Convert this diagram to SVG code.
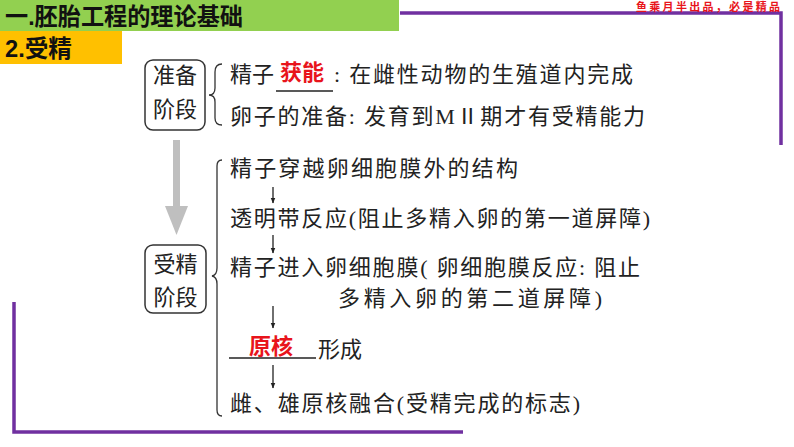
<svg xmlns="http://www.w3.org/2000/svg" width="794" height="447" viewBox="0 0 794 447">
<defs>
<style>
.t{font-family:"Liberation Serif","Noto Sans CJK SC",serif;font-size:22px;fill:#222}
.h{font-family:"Liberation Sans","Noto Sans CJK SC",sans-serif;font-size:24px;font-weight:bold;fill:#111}
.r{font-family:"Liberation Sans","Noto Sans CJK SC",sans-serif;font-size:22px;font-weight:bold;fill:#e8141b}
.box{fill:#fff;stroke:#333;stroke-width:1.5}
.br{fill:none;stroke:#333;stroke-width:1.3}
.ln{stroke:#222;stroke-width:1.3}
.pu{fill:none;stroke:#7030a0;stroke-width:3.5}
</style>
<marker id="ah" viewBox="0 0 10 10" refX="9" refY="5" markerWidth="6" markerHeight="8" orient="auto" markerUnits="userSpaceOnUse">
<path d="M0,1 L10,5 L0,9 Z" fill="#222"/>
</marker>
</defs>
<rect width="794" height="447" fill="#fff"/>
<g id="frame">
<polyline class="pu" points="400,13 781,13 781,145"/>
<polyline class="pu" points="14,302 14,432 463,432"/>
</g>
<g id="header">
<rect x="0" y="0" width="399" height="31" fill="#92d050"/>
<text class="h" x="5" y="25" textLength="238" lengthAdjust="spacingAndGlyphs">一.胚胎工程的理论基础</text>
<rect x="0" y="31" width="122" height="33" fill="#ffc000"/>
<text class="h" x="5" y="57" textLength="67" lengthAdjust="spacingAndGlyphs">2.受精</text>
<text x="780" y="11" text-anchor="end" font-family="Liberation Serif,Noto Sans CJK SC,serif" font-size="11" font-weight="bold" fill="#e8141b" textLength="144" lengthAdjust="spacing">鱼乘月半出品，必是精品</text>
</g>
<g id="prep">
<rect class="box" x="145" y="60" width="60" height="70" rx="8"/>
<text class="t" x="175" y="83" text-anchor="middle">准备</text>
<text class="t" x="175" y="117" text-anchor="middle">阶段</text>
<path class="br" d="M222,64 Q215,64 215,72 L215,88 Q215,95 209,95 Q215,95 215,102 L215,118 Q215,125 222,125"/>
<text class="t" x="230" y="82">精子</text>
<text class="r" x="280" y="80">获能</text>
<line class="ln" x1="276" y1="91" x2="333" y2="91"/>
<text class="t" x="334" y="82" textLength="299" lengthAdjust="spacing">: 在雌性动物的生殖道内完成</text>
<text class="t" x="230" y="124" textLength="415" lengthAdjust="spacing">卵子的准备: 发育到MⅡ期才有受精能力</text>
</g>
<g id="bigarrow">
<rect x="173" y="140" width="7" height="68" fill="#bfbfbf"/>
<polygon points="165,206 188,206 176.5,235" fill="#bfbfbf"/>
</g>
<g id="fert">
<rect class="box" x="145" y="245" width="61" height="68" rx="8"/>
<text class="t" x="175.5" y="272" text-anchor="middle">受精</text>
<text class="t" x="175.5" y="305" text-anchor="middle">阶段</text>
<path class="br" d="M222,160 Q217,160 217,166 L217,268 Q217,275 212,276 Q217,277 217,284 L217,410 Q217,416 222,416"/>
<text class="t" x="230" y="176" textLength="288" lengthAdjust="spacing">精子穿越卵细胞膜外的结构</text>
<text class="t" x="230" y="226" textLength="420" lengthAdjust="spacing">透明带反应(阻止多精入卵的第一道屏障)</text>
<text class="t" x="230" y="275" textLength="410" lengthAdjust="spacing">精子进入卵细胞膜( 卵细胞膜反应: 阻止</text>
<text class="t" x="338" y="306" textLength="264" lengthAdjust="spacing">多精入卵的第二道屏障)</text>
<text class="r" x="249" y="354">原核</text>
<line class="ln" x1="229" y1="358" x2="316" y2="358"/>
<text class="t" x="318" y="357">形成</text>
<text class="t" x="230" y="411" textLength="350" lengthAdjust="spacing">雌、雄原核融合(受精完成的标志)</text>
</g>
<g id="connectors">
<line class="ln" x1="273" y1="187" x2="273" y2="203" marker-end="url(#ah)"/>
<line class="ln" x1="273" y1="235" x2="273" y2="253" marker-end="url(#ah)"/>
<line class="ln" x1="273" y1="306" x2="273" y2="328" marker-end="url(#ah)"/>
<line class="ln" x1="273" y1="365" x2="273" y2="388" marker-end="url(#ah)"/>
</g>
</svg>
